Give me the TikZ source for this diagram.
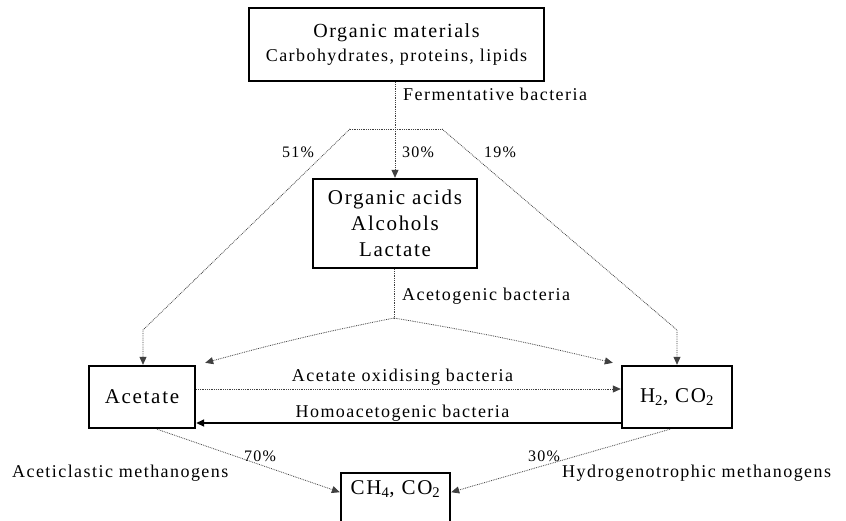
\documentclass[tikz,border=0pt]{standalone}
\usepackage{fontspec}
\setmainfont{Liberation Serif}
\newfontfamily\spaced[LetterSpace=8]{Liberation Serif}
\usetikzlibrary{arrows.meta,calc}
\begin{document}
\begin{tikzpicture}[x=1pt,y=-1pt,
  box/.style={draw=black,line width=2.4pt,inner sep=0pt,align=center,font=\spaced\fontsize{21}{26}\selectfont},
  lab/.style={font=\spaced\fontsize{18}{22}\selectfont,inner sep=0pt},
  pct/.style={font=\spaced\fontsize{16}{20}\selectfont,inner sep=0pt},
  dotline/.style={densely dotted,line width=0.8pt,draw=black!75},
  tip/.style={-{Triangle[length=8pt,width=7pt]}},
]
\useasboundingbox[fill=white] (0,0) rectangle (846,520);
% boxes
\node[box,minimum width=295pt,minimum height=73pt,align=center] (org) at (396.5,44.5)
  {{\fontsize{20}{28}\selectfont Organic materials}\\[-2pt]{\fontsize{18}{28}\selectfont Carbohydrates, proteins, lipids}};
\node[box,minimum width=164pt,minimum height=89pt] (mid) at (395,223.5)
  {Organic acids\\Alcohols\\Lactate};
\node[box,minimum width=106pt,minimum height=62pt] (acet) at (142,397) {Acetate};
\node[box,minimum width=110pt,minimum height=62pt] (h2) at (677,397) {H\textsubscript{2}, CO\textsubscript{2}};
\node[box,anchor=north,minimum width=109pt,text height=21pt,text depth=37pt] (ch4) at (395.5,472)
  {CH\textsubscript{4}, CO\textsubscript{2}};
% fermentative split
\coordinate (fj) at (395,129);
\coordinate (fl) at (350,129);
\coordinate (fr) at (442,129);
\coordinate (al) at (143,330);
\coordinate (ar) at (677,330);
\draw[dotline] (org.south -| fj) -- (fj);
\draw[dotline] (fl) -- (fr);
\draw[dotline,tip] (fj) -- (mid.north -| fj);
\draw[dotline,tip] (fl) -- (al) -- (acet.north -| al);
\draw[dotline,tip] (fr) -- (ar) -- (h2.north -| ar);
\node[lab,anchor=base west] (ferm) at (403,100) {Fermentative bacteria};
\node[pct] (p51) at (298,152) {51\%};
\node[pct] (p30) at (418,152) {30\%};
\node[pct] (p19) at (500,152) {19\%};
% acetogenic split
\coordinate (aj) at (394,318);
\coordinate (atl) at ($(acet.north east)+(9,-2)$);
\coordinate (atr) at ($(h2.north west)+(-8,-2)$);
\draw[dotline] (mid.south -| aj) -- (aj);
\draw[dotline,tip] (aj) to[bend right=2] (atl);
\draw[dotline,tip] (aj) to[bend left=2] (atr);
\node[lab,anchor=base west] (acetog) at (402,300) {Acetogenic bacteria};
% acetate <-> H2
\draw[dotline,tip] ($(acet.east)+(0,-8)$) -- ($(h2.west)+(0,-8)$);
\draw[line width=1.6pt,tip] ($(h2.west)+(0,26)$) -- ($(acet.east)+(0,26)$);
\node[lab,anchor=base] (aox) at (402.5,381) {Acetate oxidising bacteria};
\node[lab,anchor=base] (homo) at (402.5,417) {Homoacetogenic bacteria};
% methanogens
\draw[dotline,tip] ($(acet.south)+(15,0)$) -- ($(ch4.west)+(0,-10)$);
\draw[dotline,tip] ($(h2.south)+(-7,0)$) -- ($(ch4.east)+(0,-10)$);
\node[pct,anchor=base] (p70) at (260,461) {70\%};
\node[pct,anchor=base] (p30b) at (544,461) {30\%};
\node[lab,anchor=base west] (acl) at (12,477) {Aceticlastic methanogens};
\node[lab,anchor=base west] (hyd) at (562,477) {Hydrogenotrophic methanogens};
\end{tikzpicture}
\end{document}
